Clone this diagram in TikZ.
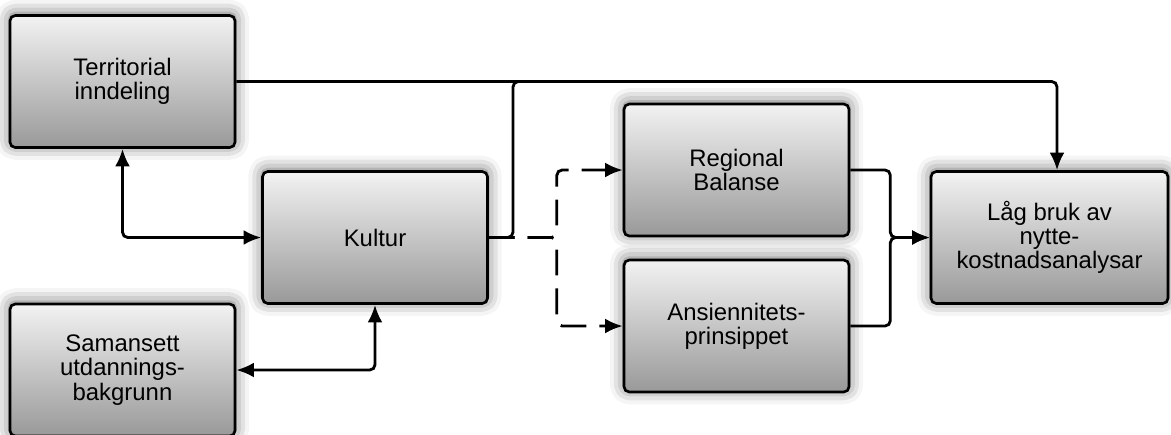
\documentclass[tikz,border=0pt]{standalone}
\usepackage{fontspec}
\setmainfont{Liberation Sans}
\usetikzlibrary{arrows.meta, shadows.blur}

\begin{document}
\begin{tikzpicture}[>={Latex[length=10pt,width=8.5pt]},
  box/.style={draw, line width=1.5pt, rounded corners=3pt, top color=black!5, bottom color=black!40, minimum width=4.5cm, minimum height=2.64cm, align=center, font=\fontsize{13.6}{13.8}\selectfont, blur shadow={shadow xshift=0pt, shadow yshift=1pt, shadow blur radius=8pt, shadow opacity=60}},
  link/.style={line width=1.6pt, rounded corners=3pt}]
  \useasboundingbox (0,0) rectangle (23.42,-8.68);
  \clip (0,0) rectangle (23.42,-8.68);
  \node (terr) at (2.45,-1.63) [box] {Territorial\\inndeling};
  \node (kultur) at (7.5,-4.75) [box] {Kultur};
  \node (saman) at (2.45,-7.4) [box] {Samansett\\utdannings-\\bakgrunn};
  \node (regional) at (14.73,-3.4) [box] {Regional\\Balanse};
  \node (ansien) at (14.73,-6.52) [box] {Ansiennitets-\\prinsippet};
  \node (laag) at (20.99,-4.75) [box, minimum width=4.74cm] {Låg bruk av\\nytte-\\kostnadsanalysar};
  \coordinate (join) at (10.26,-1.63);
  \draw [link, ->] (terr.east) -| ([xshift=0.15cm]laag.north);
  \draw [link] (kultur.east) -| (join) -- ++(1,0);
  \draw [link, <->] (terr.south) |- (kultur.west);
  \draw [link, <->] (kultur.south) |- (saman.east);
  \draw [link, ->, dash pattern=on 14.7pt off 7.4pt] (kultur.east) -- ++(1.36,0) |- (regional.west);
  \draw [link, ->, dash pattern=on 14.7pt off 7.4pt] (kultur.east) -- ++(1.36,0) |- (ansien.west);
  \draw [link, ->] (regional.east) -- ++(0.8,0) |- (laag.west);
  \draw [link, ->] (ansien.east) -- ++(0.8,0) |- (laag.west);
\end{tikzpicture}
\end{document}
